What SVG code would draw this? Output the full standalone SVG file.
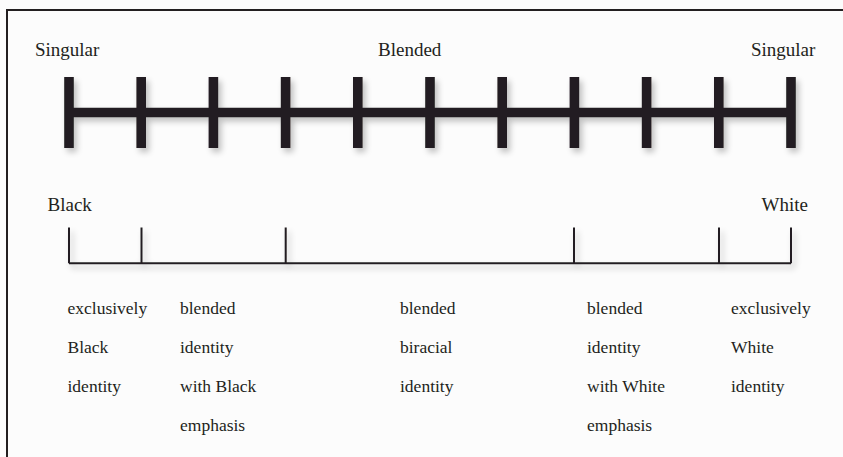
<svg xmlns="http://www.w3.org/2000/svg" width="843" height="457" viewBox="0 0 843 457">
<style>
.h{font-family:"Liberation Serif","Times New Roman",serif;font-size:19px;fill:#231f20}
.l{font-family:"Liberation Serif","Times New Roman",serif;font-size:17.5px;fill:#231f20}
.thick{stroke:#231f20;stroke-width:9.6;fill:none}
.thin{stroke:#231f20;stroke-width:2;fill:none}
</style>
<defs>
<filter id="sh" x="-10%" y="-30%" width="120%" height="160%">
<feGaussianBlur in="SourceAlpha" stdDeviation="3"/>
<feOffset dx="3" dy="4" result="b"/>
<feComponentTransfer><feFuncA type="linear" slope="0.25"/></feComponentTransfer>
<feMerge><feMergeNode/><feMergeNode in="SourceGraphic"/></feMerge>
</filter>
</defs>
<rect width="843" height="457" fill="#fcfcfc"/>
<path d="M7 457 V10 H843" fill="none" stroke="#231f20" stroke-width="2"/>
<g id="top-scale" filter="url(#sh)">
<path class="thick" d="M69 112.5 H791 M69 77 V148 M141.2 77 V148 M213.4 77 V148 M285.6 77 V148 M357.8 77 V148 M430 77 V148 M502.2 77 V148 M574.4 77 V148 M646.6 77 V148 M718.8 77 V148 M791 77 V148"/>
</g>
<g id="top-labels">
<text class="h" x="35" y="56">Singular</text>
<text class="h" x="378" y="56">Blended</text>
<text class="h" x="751" y="56">Singular</text>
</g>
<g id="bottom-scale" filter="url(#sh)">
<path class="thin" d="M69 263.3 H791 M69 227.5 V263.3 M141.5 227.5 V263.3 M285.7 227.5 V263.3 M574 227.5 V263.3 M719 227.5 V263.3 M791 227.5 V263.3"/>
</g>
<g id="bottom-labels">
<text class="h" x="47.5" y="211">Black</text>
<text class="h" x="761.5" y="211">White</text>
</g>
<g id="seg1" class="l">
<text class="l" x="67.5" y="313.5">exclusively</text>
<text class="l" x="67.5" y="353">Black</text>
<text class="l" x="67.5" y="392">identity</text>
</g>
<g id="seg2">
<text class="l" x="180" y="313.5">blended</text>
<text class="l" x="180" y="353">identity</text>
<text class="l" x="180" y="392">with Black</text>
<text class="l" x="180" y="431">emphasis</text>
</g>
<g id="seg3">
<text class="l" x="400" y="313.5">blended</text>
<text class="l" x="400" y="353">biracial</text>
<text class="l" x="400" y="392">identity</text>
</g>
<g id="seg4">
<text class="l" x="587" y="313.5">blended</text>
<text class="l" x="587" y="353">identity</text>
<text class="l" x="587" y="392">with White</text>
<text class="l" x="587" y="431">emphasis</text>
</g>
<g id="seg5">
<text class="l" x="731" y="313.5">exclusively</text>
<text class="l" x="731" y="353">White</text>
<text class="l" x="731" y="392">identity</text>
</g>
</svg>
